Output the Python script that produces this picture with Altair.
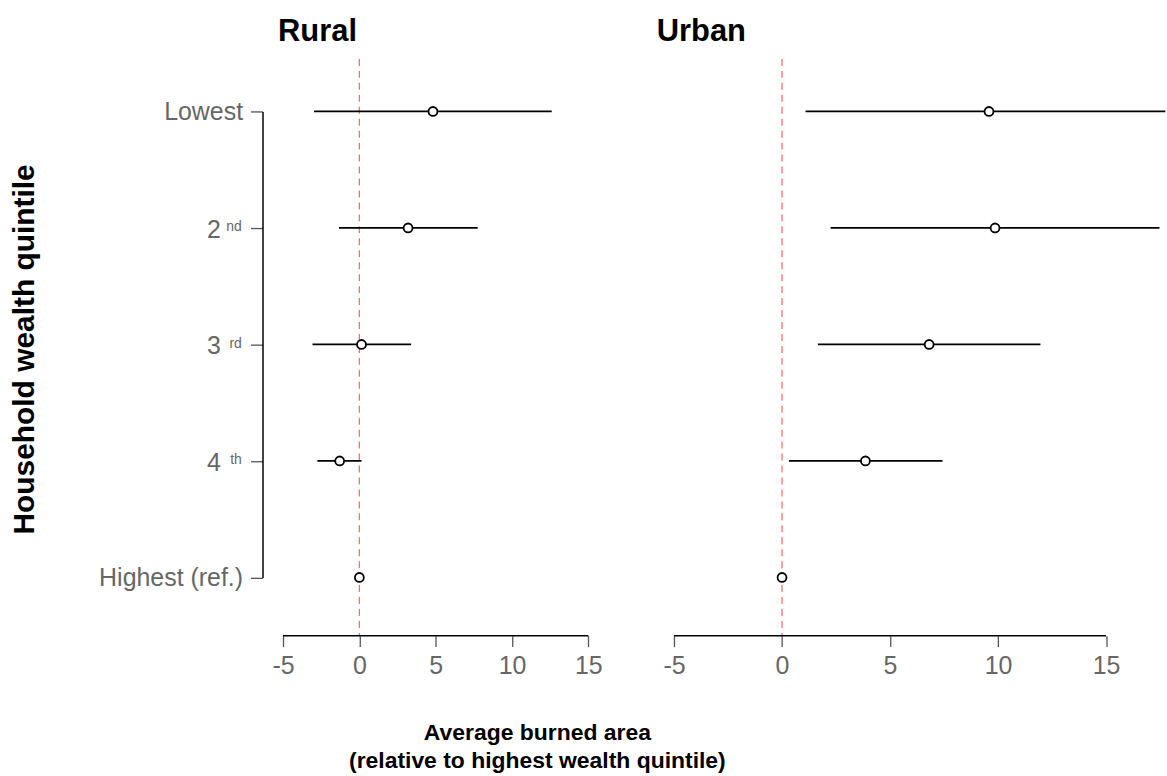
import altair as alt
import pandas as pd

# ---- data ----
quintiles = ["Lowest", "2nd", "3rd", "4th", "Highest (ref.)"]
ordinal_digits = ["", "2", "3", "4", ""]
superscripts = ["", "nd", "rd", "th", ""]
rural_est = [4.82, 3.19, 0.14, -1.29, 0.0]
rural_lo = [-2.97, -1.34, -3.07, -2.75, None]
rural_hi = [12.60, 7.75, 3.39, 0.14, None]
urban_est = [9.58, 9.86, 6.81, 3.86, 0.0]
urban_lo = [1.09, 2.25, 1.66, 0.32, None]
urban_hi = [17.74, 17.47, 11.96, 7.43, None]   # lowest upper bound runs off the figure edge
x_ticks = [-5, 0, 5, 10, 15]
panel_titles = ["Rural", "Urban"]
x_title = ["Average burned area", "(relative to highest wealth quintile)"]
y_title = "Household wealth quintile"
ref_value = 0

FONT = "Liberation Sans"
LABEL_GRAY = "#666666"
TICK_GRAY = "#555555"
H = 467.6
X_OFFSET = 58.4


def panel(est, lo, hi, title, width, xmax, first, title_dx):
    df = pd.DataFrame({"quintile": quintiles, "est": est, "lo": lo, "hi": hi,
                       "digit": ordinal_digits, "sup": superscripts})
    ref_df = pd.DataFrame({"ref": [ref_value]})
    axis_df = pd.DataFrame({"a": [x_ticks[0]], "b": [x_ticks[-1]]})

    xscale = alt.Scale(domain=[x_ticks[0], xmax], nice=False, zero=False)
    xaxis = alt.Axis(
        values=x_ticks, domain=False, grid=False, offset=X_OFFSET,
        tickSize=11, tickColor=TICK_GRAY, tickWidth=1.3,
        labelFontSize=25, labelColor=LABEL_GRAY, labelPadding=7, labelFont=FONT,
        labelFlush=False, labelOverlap=False, labelExpr="'' + datum.value",
        title=x_title if first else None,
        titleFontSize=23, titleFontWeight="bold", titleColor="black", titleFont=FONT,
        titleLineHeight=28, titleX=254.7, titleY=104,
        titleBaseline="alphabetic", titleAlign="center",
    )
    if first:
        yaxis = alt.Axis(
            offset=20.6, domain=True, domainColor="black", domainWidth=1.5,
            grid=False, tickSize=12, tickColor=TICK_GRAY, tickWidth=1.3,
            labelFontSize=25, labelColor=LABEL_GRAY, labelPadding=8, labelFont=FONT,
            labelAlign="right", labelBaseline="middle",
            labelExpr="indexof(['2nd','3rd','4th'], datum.value) >= 0 ? '' : datum.value",
            title=y_title, titleFontSize=30, titleFontWeight="bold",
            titleColor="black", titleFont=FONT, titleX=-229.7, titleY=238.3,
            titleBaseline="alphabetic", titleAlign="center", titleAngle=270,
        )
    else:
        yaxis = None
    yenc = alt.Y("quintile:N", sort=quintiles,
                 scale=alt.Scale(type="point", padding=0, domain=quintiles),
                 axis=yaxis)

    ref_rule = alt.Chart(ref_df).mark_rule(
        color="#f87171", strokeDash=[7, 5], strokeWidth=1.3
    ).encode(
        x=alt.X("ref:Q", scale=xscale, axis=xaxis),
        y=alt.value(-52.7), y2=alt.value(H + X_OFFSET),
    )
    axis_line = alt.Chart(axis_df).mark_rule(color="black", strokeWidth=1.5).encode(
        x=alt.X("a:Q", scale=xscale, axis=xaxis), x2="b:Q",
        y=alt.value(H + X_OFFSET),
    )
    ci = alt.Chart(df).mark_rule(color="black", strokeWidth=1.7).encode(
        x=alt.X("lo:Q", scale=xscale, axis=xaxis), x2="hi:Q", y=yenc,
    )
    pts = alt.Chart(df).mark_point(
        shape="circle", filled=True, fill="white", stroke="black",
        strokeWidth=1.8, size=80, opacity=1,
    ).encode(
        x=alt.X("est:Q", scale=xscale, axis=xaxis), y=yenc,
    )
    layers = [ref_rule, axis_line, ci, pts]
    if first:
        digits = alt.Chart(df).mark_text(
            align="right", baseline="middle", dy=2, fontSize=25,
            color=LABEL_GRAY, font=FONT,
        ).encode(y=yenc, x=alt.value(-62.3), text="digit:N")
        sup = alt.Chart(df).mark_text(
            align="right", baseline="alphabetic", dy=3.3, fontSize=14,
            color=LABEL_GRAY, font=FONT,
        ).encode(y=yenc, x=alt.value(-41.3), text="sup:N")
        layers += [digits, sup]
    return alt.layer(*layers).properties(
        width=width, height=H,
        title=alt.TitleParams(
            text=title, anchor="start", frame="group", fontSize=31,
            fontWeight="bold", font=FONT, color="black", baseline="alphabetic",
            offset=-13.9, dx=title_dx,
        ),
    )


rural = panel(rural_est, rural_lo, rural_hi, panel_titles[0], 306.4, 15, True, -5)
urban = panel(urban_est, urban_lo, urban_hi, panel_titles[1], 493, 17.74, False, -17.3)

chart = alt.hconcat(rural, urban, spacing=85.3, bounds="flush").properties(
    padding={"left": 9, "top": 14.5, "right": 0, "bottom": 0},
).configure(font=FONT).configure_view(stroke=None)

chart.save("out.html", embed_options={"renderer": "svg", "actions": False})
